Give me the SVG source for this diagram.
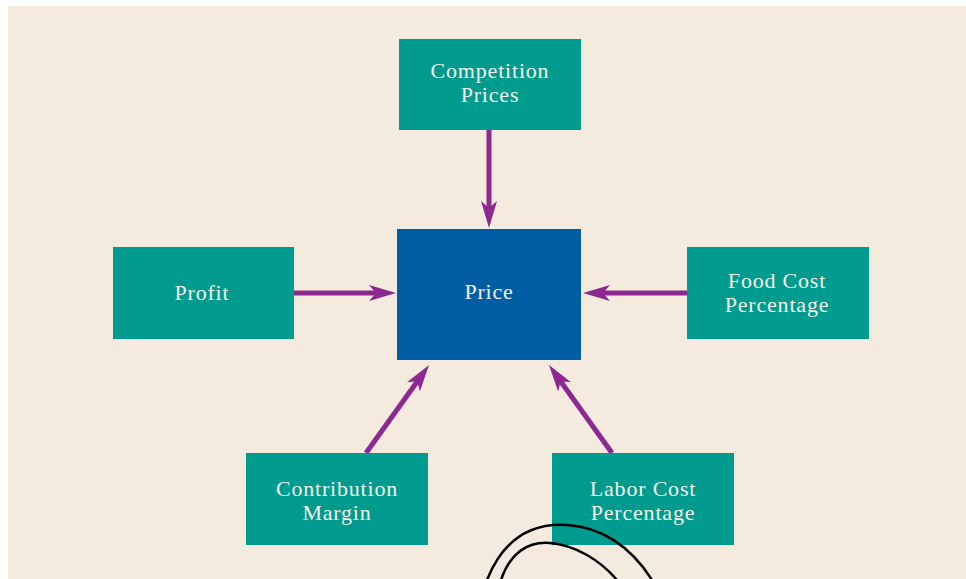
<svg xmlns="http://www.w3.org/2000/svg" width="966" height="579" viewBox="0 0 966 579">
<defs>
<style>
.bg{fill:#F4EADD}
.node{fill:#009B8F}
.center{fill:#005DA4}
.lbl{font-family:"Liberation Serif","DejaVu Serif",serif;font-size:22px;fill:#F4F1E6;text-anchor:middle;letter-spacing:0.8px}
.conn{stroke:#8C2890;stroke-width:5;fill:none;marker-end:url(#ah)}
.loop{stroke:#000;stroke-width:2.5;fill:none}
</style>
<marker id="ah" viewBox="0 0 27 16" refX="12" refY="8" markerWidth="27" markerHeight="16" markerUnits="userSpaceOnUse" orient="auto">
<path d="M27,8 L0,0 L7,8 L0,16 Z" fill="#8C2890"/>
</marker>
</defs>
<rect class="bg" x="8" y="6" width="958" height="573"/>
<g id="connectors">
<line class="conn" x1="489" y1="130" x2="489" y2="213"/>
<line class="conn" x1="294" y1="293" x2="381" y2="293"/>
<line class="conn" x1="687" y1="293" x2="598" y2="293"/>
<line class="conn" x1="366" y1="453" x2="420.3" y2="377.2"/>
<line class="conn" x1="612" y1="453" x2="557.7" y2="377.2"/>
</g>
<g id="competition">
<rect class="node" x="399" y="39" width="182" height="91"/>
<text class="lbl" x="490" y="78">Competition</text>
<text class="lbl" x="490" y="102">Prices</text>
</g>
<g id="price">
<rect class="center" x="397" y="229" width="184" height="131"/>
<text class="lbl" x="489" y="299">Price</text>
</g>
<g id="profit">
<rect class="node" x="113" y="247" width="181" height="92"/>
<text class="lbl" x="202" y="300">Profit</text>
</g>
<g id="food">
<rect class="node" x="687" y="247" width="182" height="92"/>
<text class="lbl" x="777" y="288">Food Cost</text>
<text class="lbl" x="777" y="312">Percentage</text>
</g>
<g id="contribution">
<rect class="node" x="246" y="453" width="182" height="92"/>
<text class="lbl" x="337" y="496">Contribution</text>
<text class="lbl" x="337" y="520">Margin</text>
</g>
<g id="labor">
<rect class="node" x="552" y="453" width="182" height="92"/>
<text class="lbl" x="643" y="496">Labor Cost</text>
<text class="lbl" x="643" y="520">Percentage</text>
</g>
<g id="loops">
<path class="loop" d="M487,580 C505,535 535,523 567,525 C600,527 630,545 652,580"/>
<path class="loop" d="M501,580 C510,553 528,541 550,543 C575,545 600,560 617,580"/>
</g>
</svg>
